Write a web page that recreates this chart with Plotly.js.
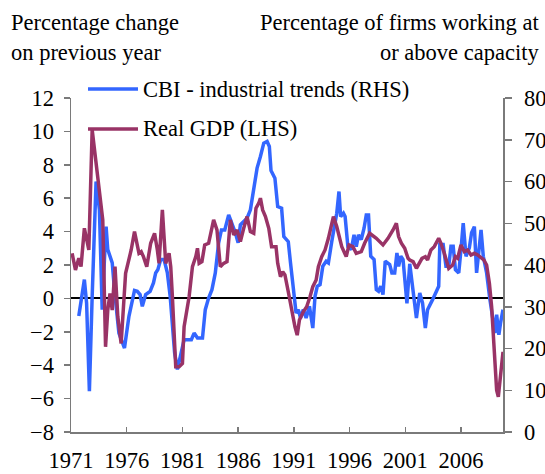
<!DOCTYPE html>
<html>
<head>
<meta charset="utf-8">
<script src="https://cdn.plot.ly/plotly-3.0.1.min.js"></script>
<style>html,body{margin:0;padding:0;background:#fff;}#chart{width:545px;height:474px;}</style>
</head>
<body>
<div id="chart"></div>
<script>
// Real GDP, % change on previous year (LHS)
const gdpDates = [1971.1,1971.4,1971.7,1971.9,1972.2,1972.6,1972.9,1973.4,1973.85,1974.1,1974.3,1974.5,1974.7,1974.95,1975.2,1975.5,1975.9,1976.4,1976.7,1977.1,1977.3,1977.5,1977.8,1978.15,1978.5,1978.75,1978.9,1979.2,1979.5,1979.8,1979.95,1980.1,1980.25,1980.4,1980.7,1981.0,1981.15,1981.6,1981.9,1982.2,1982.35,1982.5,1982.75,1983.0,1983.35,1983.8,1984.1,1984.4,1984.7,1985.0,1985.3,1985.6,1985.9,1986.2,1986.5,1986.8,1987.1,1987.4,1987.6,1987.85,1988.0,1988.2,1988.45,1988.75,1989.0,1989.4,1989.55,1989.8,1990.0,1990.2,1990.5,1990.8,1991.1,1991.3,1991.5,1991.85,1992.15,1992.45,1992.7,1993.0,1993.2,1993.5,1993.8,1994.1,1994.4,1994.55,1994.85,1995.1,1995.3,1995.7,1995.95,1996.3,1996.6,1997.05,1997.35,1997.8,1998.4,1999.0,1999.45,1999.9,2000.2,2000.4,2000.65,2000.95,2001.25,2001.4,2001.7,2002.0,2002.5,2002.8,2003.0,2003.3,2003.6,2004.0,2004.2,2004.5,2004.9,2005.25,2005.5,2005.7,2006.0,2006.3,2006.6,2006.9,2007.2,2007.5,2007.8,2008.05,2008.3,2008.55,2008.75,2008.9,2009.05,2009.2,2009.35,2009.55,2009.77];
const gdpValues = [2.7,1.7,2.4,1.9,4.2,2.9,10.1,7.3,4.7,-2.9,-0.7,0.3,-0.7,1.9,-1.1,-2.7,1.5,2.9,4.0,2.7,2.8,2.5,1.9,3.3,3.9,2.9,2.1,5.3,2.1,2.7,1.9,0.1,-2.3,-4.1,-4.1,-3.9,-1.7,0.1,1.9,2.5,3.0,2.1,2.2,3.2,3.3,4.7,4.1,1.9,2.1,2.2,4.7,3.8,4.1,3.4,4.2,4.9,4.0,3.9,5.4,5.7,6.0,5.3,4.9,4.2,3.1,3.1,2.1,1.3,1.6,1.4,0.4,-0.7,-1.7,-2.2,-1.3,-0.8,-0.5,0.1,0.7,1.1,1.9,2.5,2.9,3.6,4.4,4.9,4.3,3.6,3.1,2.5,3.2,3.1,2.7,2.8,3.3,3.9,3.6,3.2,3.6,4.1,4.5,3.7,3.3,3.0,2.4,2.3,2.2,1.8,2.4,2.5,2.3,2.9,3.1,3.6,3.3,2.7,1.8,2.0,2.5,2.4,3.2,2.8,2.9,2.6,2.7,2.6,2.4,2.3,2.0,0.9,-0.5,-2.3,-4.1,-5.5,-5.9,-4.5,-3.2];

// CBI industrial trends, % of firms working at or above capacity (RHS)
const cbiDates = [1971.7,1972.2,1972.4,1972.65,1972.9,1973.25,1973.55,1973.8,1974.0,1974.15,1974.3,1974.7,1974.9,1975.3,1975.8,1976.2,1976.7,1976.95,1977.2,1977.4,1977.7,1978.1,1978.4,1978.6,1978.8,1979.05,1979.35,1979.65,1979.9,1980.1,1980.3,1980.55,1980.85,1981.15,1981.45,1981.8,1982.05,1982.35,1982.8,1983.05,1983.35,1983.65,1983.95,1984.25,1984.5,1984.8,1985.15,1985.45,1985.75,1986.0,1986.2,1986.5,1986.8,1987.1,1987.4,1987.7,1988.0,1988.3,1988.6,1988.8,1988.95,1989.3,1989.55,1989.9,1990.1,1990.5,1990.7,1990.95,1991.2,1991.4,1991.6,1991.85,1992.1,1992.4,1992.7,1992.9,1993.1,1993.35,1993.6,1993.9,1994.1,1994.4,1994.7,1994.85,1995.05,1995.2,1995.45,1995.6,1995.85,1996.15,1996.4,1996.6,1996.8,1997.05,1997.3,1997.5,1997.7,1997.9,1998.2,1998.4,1998.6,1998.8,1999.0,1999.2,1999.6,1999.8,2000.05,2000.25,2000.4,2000.6,2000.8,2000.95,2001.15,2001.4,2001.7,2002.0,2002.3,2002.55,2002.8,2003.0,2003.45,2004.0,2004.1,2004.4,2004.65,2004.9,2005.1,2005.3,2005.5,2005.8,2006.0,2006.2,2006.45,2006.75,2006.95,2007.2,2007.4,2007.65,2007.8,2008.0,2008.3,2008.6,2008.9,2009.05,2009.2,2009.4,2009.55,2009.77];
const cbiValues = [27.8,36.5,30.9,9.8,32.5,60.0,53.2,29.3,41.3,49.2,43.7,40.5,34.1,23.7,20.1,27.7,33.9,33.7,32.9,30.1,32.9,33.7,35.7,38.1,38.9,41.3,41.3,38.1,32.5,26.1,18.9,15.0,18.9,22.1,22.1,22.1,23.7,22.5,22.5,29.3,32.1,34.1,38.1,45.3,48.4,48.4,52.0,50.0,47.7,45.3,49.6,50.4,51.2,53.2,58.0,63.2,66.0,69.2,69.6,68.4,62.6,60.8,54.0,53.6,46.8,45.6,40.5,34.1,28.5,29.3,27.3,29.3,27.3,30.1,24.9,32.5,34.9,35.3,39.7,40.9,40.5,45.6,50.8,52.4,57.6,51.6,52.4,51.6,44.4,43.7,47.2,44.4,47.2,46.1,48.8,52.0,52.0,42.1,41.3,34.1,33.7,34.9,32.9,40.9,40.1,38.1,38.1,42.9,39.7,42.1,41.3,37.3,30.8,40.3,34.1,27.3,33.3,30.9,24.9,29.3,31.7,34.9,44.9,44.9,39.7,39.7,44.5,44.5,38.9,38.1,43.7,50.0,42.1,44.1,47.7,49.2,38.1,44.5,48.4,42.1,38.1,31.7,25.3,23.7,28.1,23.3,26.1,29.3];

const xTicks = [1971,1976,1981,1986,1991,1996,2001,2006];
const lhsTicks = [-8,-6,-4,-2,0,2,4,6,8,10,12];
const rhsTicks = [0,10,20,30,40,50,60,70,80];

const seriesNames = ['CBI - industrial trends (RHS)', 'Real GDP (LHS)'];
const titleLeft = ['Percentage change', 'on previous year'];
const titleRight = ['Percentage of firms working at', 'or above capacity'];

const BLUE = '#3366FF', MAROON = '#993366', AXC = '#7a7a7a';
const FONT = {family: 'Liberation Serif, Times New Roman, serif', size: 22.5, color: '#000'};

const traces = [
  {x: cbiDates, y: cbiValues, name: seriesNames[0], type: 'scatter', mode: 'lines',
   line: {color: BLUE, width: 3.5}, yaxis: 'y', showlegend: false, hoverinfo: 'skip'},
  {x: gdpDates, y: gdpValues, name: seriesNames[1], type: 'scatter', mode: 'lines',
   line: {color: MAROON, width: 3.5}, yaxis: 'y2', showlegend: false, hoverinfo: 'skip'}
];

const L = 71, R = 503, T = 97.5, B = 432.5;
const W = R - L, H = B - T;
const px = v => (v - L) / W;
const py = v => (B - v) / H;

const layout = {
  width: 545, height: 474,
  margin: {l: L, r: 545 - R, t: T, b: 474 - B, pad: 0},
  paper_bgcolor: '#fff', plot_bgcolor: '#fff',
  font: FONT,
  showlegend: false,
  xaxis: {range: [1971, 2009.77], tickvals: xTicks, ticktext: xTicks.map(String),
    ticks: 'inside', ticklen: 5, tickcolor: AXC, tickwidth: 1.5,
    showline: true, linecolor: AXC, linewidth: 1.5, showgrid: false, zeroline: false,
    tickfont: FONT, ticklabelstandoff: 7},
  yaxis: {range: [0, 80], tickvals: rhsTicks, side: 'right',
    ticks: 'outside', ticklen: 7, tickcolor: AXC, tickwidth: 1.5,
    showline: true, linecolor: AXC, linewidth: 1.5, showgrid: false, zeroline: false,
    tickfont: FONT, ticklabelstandoff: 8},
  yaxis2: {range: [-8, 12], tickvals: lhsTicks, side: 'left', overlaying: 'y',
    ticks: 'outside', ticklen: 6, tickcolor: AXC, tickwidth: 1.5,
    showline: true, linecolor: AXC, linewidth: 1.5, showgrid: false,
    zeroline: true, zerolinecolor: '#000', zerolinewidth: 2,
    tickfont: FONT, ticklabelstandoff: 5},
  shapes: [
    {type: 'line', xref: 'paper', yref: 'paper', x0: px(88), x1: px(138), y0: py(88.5), y1: py(88.5),
     line: {color: BLUE, width: 3.5}, layer: 'above'},
    {type: 'line', xref: 'paper', yref: 'paper', x0: px(88), x1: px(138), y0: py(128.5), y1: py(128.5),
     line: {color: MAROON, width: 3.5}, layer: 'above'}
  ],
  annotations: [
    {text: seriesNames[0], xref: 'paper', yref: 'paper', x: px(141), y: py(88.5), xanchor: 'left', yanchor: 'middle', showarrow: false, font: FONT},
    {text: seriesNames[1], xref: 'paper', yref: 'paper', x: px(141), y: py(128.5), xanchor: 'left', yanchor: 'middle', showarrow: false, font: FONT},
    {text: titleLeft[0], xref: 'paper', yref: 'paper', x: px(9), y: py(22), xanchor: 'left', yanchor: 'middle', showarrow: false, font: FONT},
    {text: titleLeft[1], xref: 'paper', yref: 'paper', x: px(9), y: py(52), xanchor: 'left', yanchor: 'middle', showarrow: false, font: FONT},
    {text: titleRight[0], xref: 'paper', yref: 'paper', x: px(541), y: py(22), xanchor: 'right', yanchor: 'middle', showarrow: false, font: FONT},
    {text: titleRight[1], xref: 'paper', yref: 'paper', x: px(541), y: py(52), xanchor: 'right', yanchor: 'middle', showarrow: false, font: FONT}
  ]
};

Plotly.newPlot('chart', traces, layout, {staticPlot: true, displayModeBar: false});
</script>
</body>
</html>
